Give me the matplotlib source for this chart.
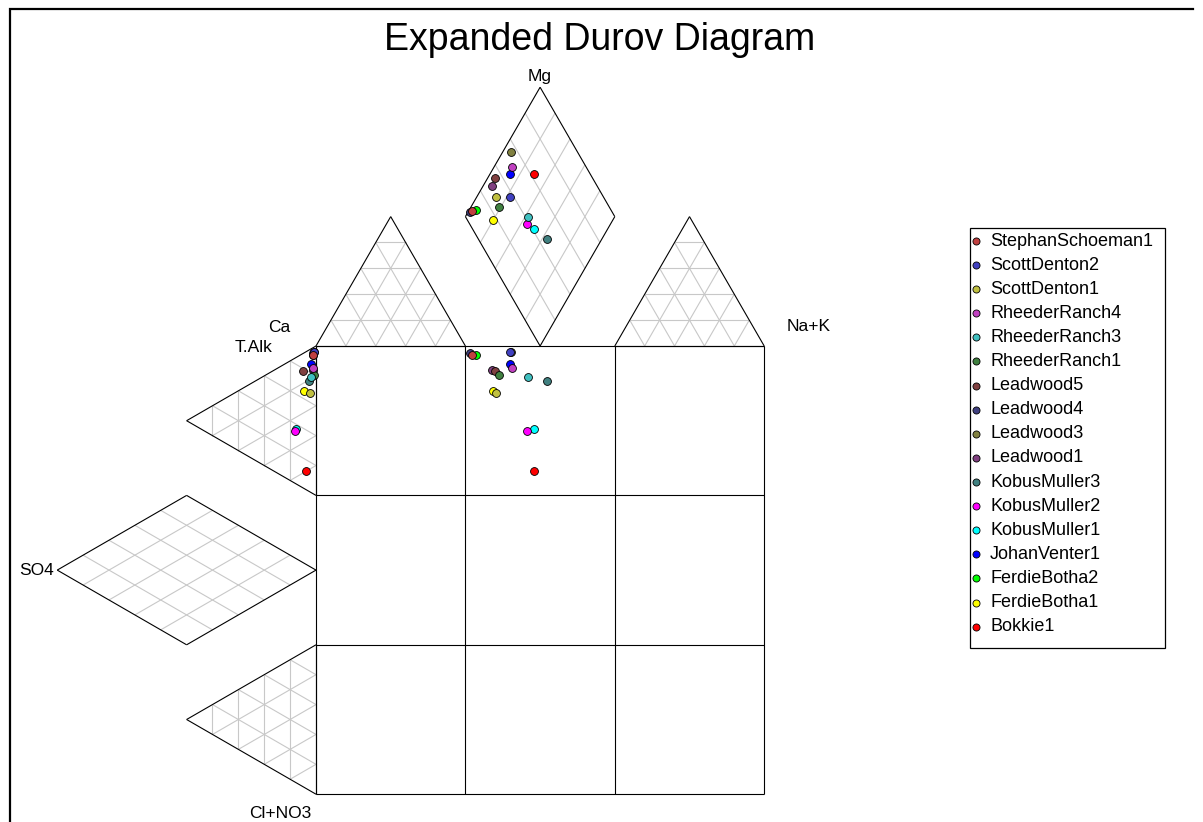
import numpy as np
import matplotlib
matplotlib.use("Agg")
import matplotlib.pyplot as plt
from matplotlib.patches import Rectangle

plt.rcParams["font.family"] = ["Liberation Sans", "DejaVu Sans"]

# ---- data ----
samples = [
    "StephanSchoeman1", "ScottDenton2", "ScottDenton1", "RheederRanch4",
    "RheederRanch3", "RheederRanch1", "Leadwood5", "Leadwood4", "Leadwood3",
    "Leadwood1", "KobusMuller3", "KobusMuller2", "KobusMuller1",
    "JohanVenter1", "FerdieBotha2", "FerdieBotha1", "Bokkie1",
]
colors = [
    "#c04040", "#4040c0", "#c0c040", "#c040c0", "#40c0c0", "#408040",
    "#804040", "#404080", "#808040", "#804080", "#408080", "#ff00ff",
    "#00ffff", "#0000ff", "#00ff00", "#ffff00", "#ff0000",
]

# cation position in the Mg diamond (% along the Mg edge / the lower edge)
cat_mg = [6.7, 37.1, 28.3, 50.2, 41.6, 26.2, 34.4, 5.0, 55.2, 29.8,
          45.7, 38.2, 40.8, 46.5, 9.4, 17.5, 62.7]
cat_nak = [2.1, 22.2, 13.1, 12.1, 42.2, 18.8, 4.8, 1.2, 5.5, 5.9,
           63.2, 43.9, 50.6, 13.3, 4.5, 19.9, 29.5]

# anion shares in the T.Alk triangle (%)
an_alk = [92.5, 95.3, 66.1, 84.0, 77.4, 79.5, 78.4, 94.0, 95.3, 82.9,
          74.1, 34.7, 36.5, 86.0, 92.5, 65.4, 12.8]
an_cl = [5.0, 3.4, 29.0, 13.9, 18.5, 18.6, 11.8, 3.7, 3.2, 14.4,
         20.3, 49.1, 48.0, 10.1, 5.2, 25.3, 79.5]
an_so4 = [2.5, 1.3, 4.9, 2.1, 4.1, 1.9, 9.8, 2.3, 1.5, 2.7,
          5.6, 16.2, 15.5, 3.9, 2.3, 9.3, 7.7]

# ---- layout (one unit = one cell of the square) ----
W, H = 1203, 822
X0, Y0, S = 316, 346, 149.4
h = np.sqrt(3) / 2
EDGE = "black"
GRID = "#c8c8c8"
NDIV = 5

fig = plt.figure(figsize=(W / 100, H / 100), dpi=100)
ax = fig.add_axes([0, 0, 1, 1])
ax.set_xlim(-X0 / S, (W - X0) / S)
ax.set_ylim((Y0 - H) / S, Y0 / S)
ax.axis("off")


def line(p, q, color=EDGE, lw=0.8, z=2):
    ax.plot([p[0], q[0]], [p[1], q[1]], color=color, lw=lw, zorder=z,
            solid_capstyle="butt")


def triangle(p0, p1, p2):
    p0, p1, p2 = map(np.array, (p0, p1, p2))
    pts = [p0, p1, p2]
    for k in range(1, NDIV):
        f = k / NDIV
        for i in range(3):
            a, b, c = pts[i], pts[(i + 1) % 3], pts[(i + 2) % 3]
            line(a + f * (b - a), a + f * (c - a), GRID, 0.8, 1)
    for i in range(3):
        line(pts[i], pts[(i + 1) % 3])


def diamond(l, t, r, b):
    l, t, r, b = map(np.array, (l, t, r, b))
    for k in range(1, NDIV):
        f = k / NDIV
        line(l + f * (b - l), t + f * (r - t), GRID, 0.8, 1)
        line(l + f * (t - l), b + f * (r - b), GRID, 0.8, 1)
    for p, q in [(l, t), (t, r), (r, b), (b, l)]:
        line(p, q)


# square
for k in range(4):
    line((k, 0), (k, -3))
    line((0, -k), (3, -k))

# top triangles and Mg diamond
triangle((0, 0), (1, 0), (0.5, h))
triangle((2, 0), (3, 0), (2.5, h))
diamond((1, h), (1.5, 2 * h), (2, h), (1.5, 0))

# left triangles and SO4 diamond
triangle((0, 0), (0, -1), (-h, -0.5))
triangle((0, -2), (0, -3), (-h, -2.5))
diamond((-2 * h, -1.5), (-h, -1), (0, -1.5), (-h, -2))

# ---- sample positions ----
u = np.array(cat_mg) / 100
v = np.array(cat_nak) / 100
cx = 1 + 0.5 * (u + v)
cy = h + h * (u - v)

cl = np.array(an_cl) / 100
so4 = np.array(an_so4) / 100
ax_ = -h * so4
ay = -cl - 0.5 * so4

for i in reversed(range(len(samples))):
    ax.scatter([cx[i], ax_[i], cx[i]], [cy[i], ay[i], ay[i]], s=32,
               color=colors[i], edgecolor="black", linewidth=0.6,
               zorder=5 + len(samples) - i)

# ---- labels in pixel space ----
ov = fig.add_axes([0, 0, 1, 1])
ov.set_xlim(0, W)
ov.set_ylim(H, 0)
ov.axis("off")
ov.patch.set_alpha(0)

ov.text(600, 40, "Expanded Durov Diagram", fontsize=27, ha="center", va="center")
lab = dict(fontsize=12.5, ha="center", va="center")
ov.text(540, 77, "Mg", **lab)
ov.text(279, 327, "Ca", **lab)
ov.text(254, 347, "T.Alk", **lab)
ov.text(809, 326, "Na+K", **lab)
ov.text(37, 570, "SO4", **lab)
ov.text(280, 813, "Cl+NO3", **lab)

# frame
ov.plot([9.5, 9.5, 1193], [H, 9.5, 9.5], color="black", lw=1.6,
        solid_joinstyle="miter")

# legend
ov.add_patch(Rectangle((969.5, 228), 195.5, 420, fill=False,
                       edgecolor="black", lw=0.9))
for i, (name, c) in enumerate(zip(samples, colors)):
    yy = 241 + 24.1 * i
    ov.scatter([975.5], [yy], s=26, color=c, edgecolor="black", linewidth=0.6)
    ov.text(990, yy, name, fontsize=13, ha="left", va="center")

fig.savefig("out.png", dpi=100)
